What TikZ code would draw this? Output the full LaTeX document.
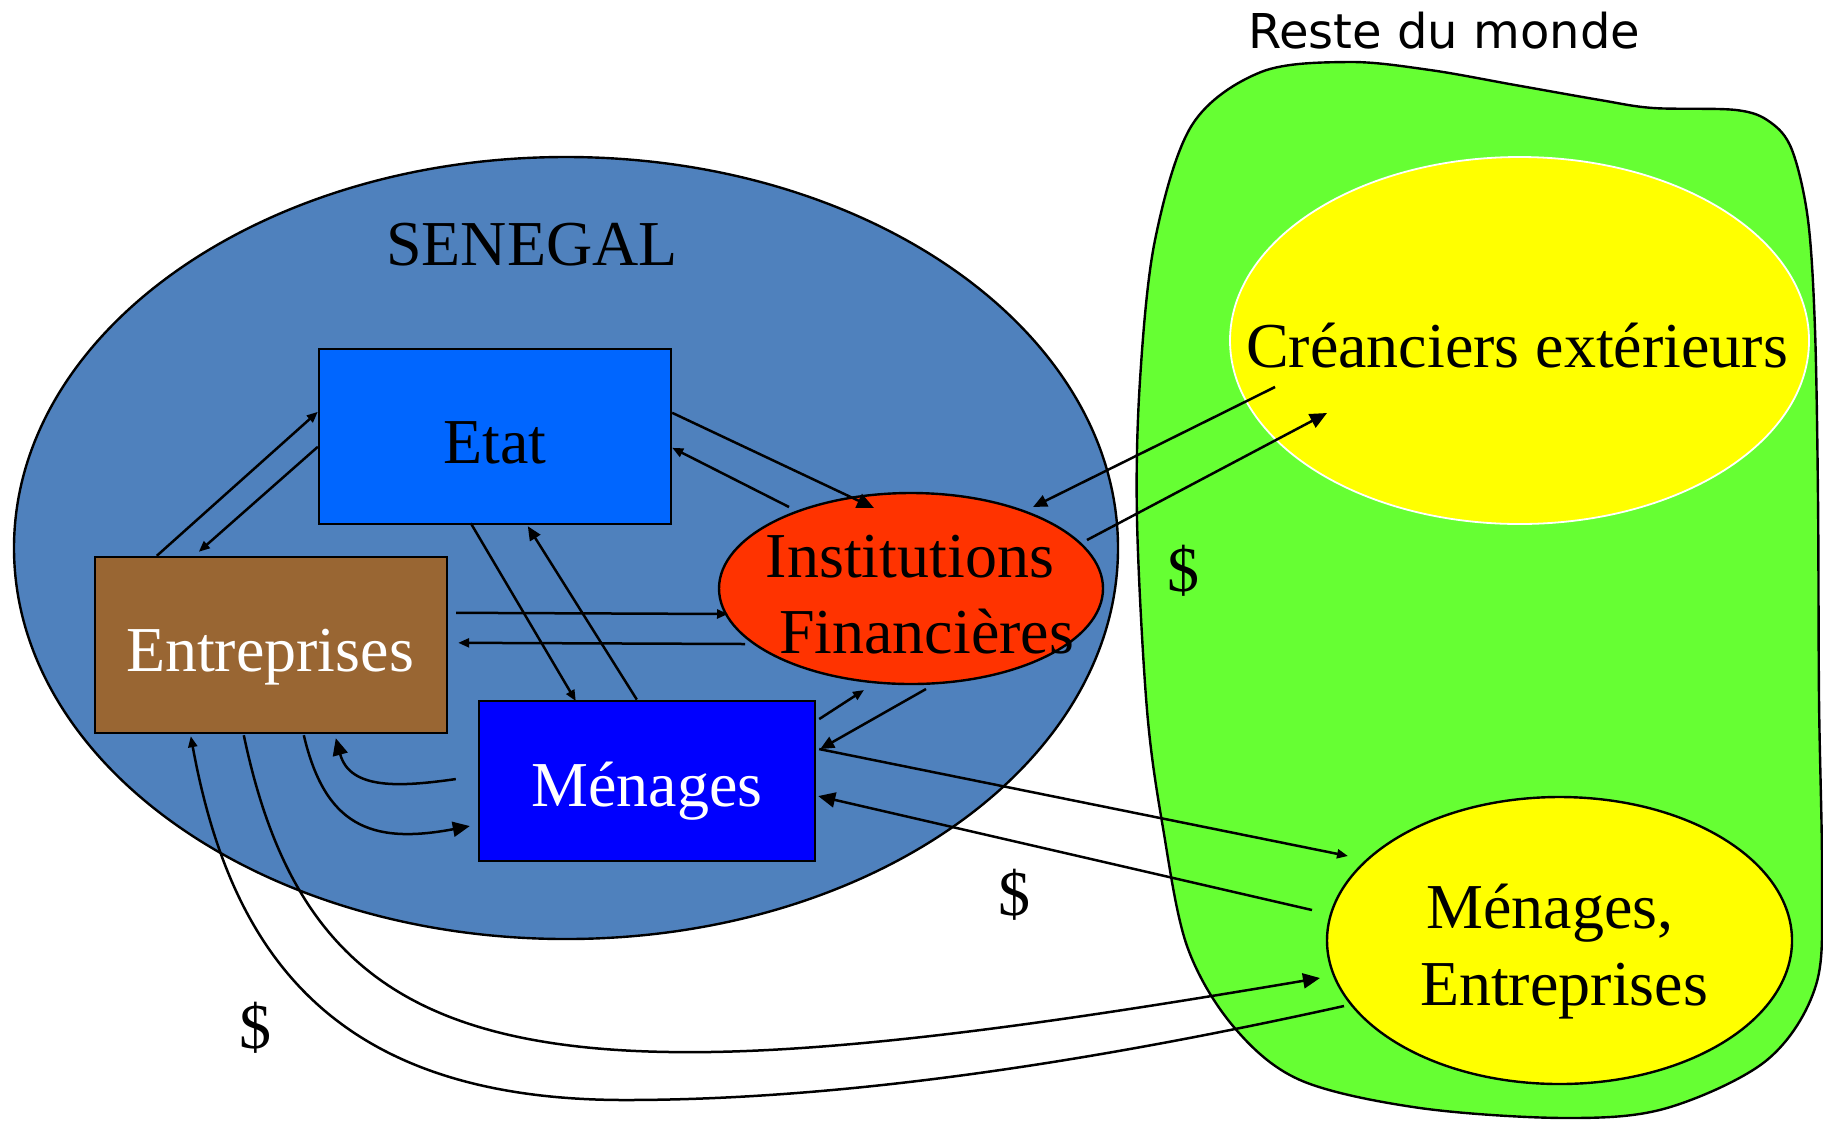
\documentclass[tikz,border=0pt]{standalone}
\usepackage{fontspec}
\setmainfont{Liberation Serif}
\newfontfamily\rdmfont{DejaVu Sans}
\usetikzlibrary{arrows.meta,shapes.geometric,calc}
\definecolor{senblue}{HTML}{4F81BD}
\definecolor{etatblue}{HTML}{0066FF}
\definecolor{entbrown}{HTML}{996633}
\definecolor{menblue}{HTML}{0000FF}
\definecolor{ifred}{HTML}{FF3300}
\definecolor{rgreen}{HTML}{66FF33}
\definecolor{ryellow}{HTML}{FFFF00}
\begin{document}
\begin{tikzpicture}[x=0.5pt,y=-0.5pt,
 box/.style={draw=black,line width=1.2pt,inner sep=0pt},
 ell/.style={ellipse,draw=black,line width=1.2pt,inner sep=0pt},
 lbl/.style={font=\fontsize{32}{36}\selectfont, anchor=base, inner sep=0pt},
 dol/.style={font=\fontsize{32}{36}\selectfont, inner sep=0pt},
 ar/.style={line width=1.25pt,-{Triangle[length=5.5pt,width=4.5pt]}},
 arm/.style={line width=1.25pt,-{Triangle[length=7pt,width=6pt]}},
 arl/.style={line width=1.25pt,-{Triangle[length=8.5pt,width=7.5pt]}},
]
\useasboundingbox (0,0) rectangle (1823,1120);
% Reste du monde blob
\draw[fill=rgreen, line width=1.2pt] plot[smooth cycle, tension=0.55] coordinates {
 (1137,520) (1140,380) (1155,240) (1192,125) (1261,72) (1349,62) (1430,70)
 (1515,85) (1600,100) (1653,108) (1736,110) (1770,122) (1792,150) (1808,220)
 (1815,330) (1818,500) (1819,700) (1822,880) (1816,985) (1767,1060) (1667,1108)
 (1567,1118) (1420,1108) (1300,1080) (1233,1026) (1187,946) (1163,828) (1147,710)};
\node[anchor=base, font=\rdmfont\fontsize{24}{28}\selectfont, inner sep=0pt] (rdm) at (1444,48) {Reste du monde};
\node[ell, draw=white, line width=0.9pt, fill=ryellow, minimum width=289.5pt, minimum height=183.5pt] (cred) at (1519.5,340.5) {};
\node[lbl] (credtxt) at (1517,367) {Créanciers extérieurs};
\node[ell, fill=ryellow, minimum width=232.5pt, minimum height=143.5pt] (me) at (1559.5,940.5) {};
\node[lbl] (metxt1) at (1550,928) {Ménages,};
\node[lbl] (metxt2) at (1564,1005) {Entreprises};
% Senegal
\node[ell, fill=senblue, minimum width=552pt, minimum height=391pt] (sen) at (566,548) {};
\node[lbl] (sentxt) at (532,265) {SENEGAL};
\node[box, fill=etatblue, minimum width=176pt, minimum height=87.5pt] (etat) at (495,436.5) {};
\node[lbl] (etattxt) at (495,463) {Etat};
\node[box, fill=entbrown, minimum width=176pt, minimum height=88pt] (ent) at (271,645) {};
\node[lbl, text=white] (enttxt) at (270,671) {Entreprises};
\node[box, fill=menblue, minimum width=168pt, minimum height=80.25pt] (men) at (647,781) {};
\node[lbl, text=white] (mentxt) at (647,806.5) {Ménages};
\node[ell, fill=ifred, minimum width=192pt, minimum height=95.5pt] (ifin) at (911,588.5) {};
\node[lbl] (iftxt1) at (910,577) {Institutions};
\node[lbl] (iftxt2) at (926.6,653) {Financières};
% dollars
\node[dol] (d1) at (1183,571) {\$};
\node[dol] (d2) at (1014,895) {\$};
\node[dol] (d3) at (255,1028) {\$};
% arrows
\draw[ar] ($(ent.north west)+(63,0)$) -- ($(etat.north west)+(0,64)$);
\draw[ar] ($(etat.north west)+(0,99)$) -- ($(ent.north west)+(105,-4)$);
\draw[arl] ($(etat.north east)+(0,65)$) -- ($(ifin.center)+(-37,-80.5)$);
\draw[ar] ($(ifin.center)+(-122,-81.5)$) -- ($(etat.north east)+(0,100)$);
\draw[ar] ($(etat.south west)+(153,-2)$) -- ($(men.north west)+(98,1.5)$);
\draw[arm] ($(men.north west)+(159,0)$) -- ($(etat.south west)+(210,1)$);
\draw[ar] ($(ent.north east)+(8,57)$) -- ($(ifin.center)+(-183,25.5)$);
\draw[ar] ($(ifin.center)+(-166,55.5)$) -- ($(ent.north east)+(10,87)$);
\draw[ar] ($(men.north east)+(3,19.5)$) -- ($(ifin.center)+(-47,101.5)$);
\draw[arm] ($(ifin.center)+(15,100.5)$) -- ($(men.north east)+(4,49.5)$);
\draw[ar] ($(men.north east)+(3,49.5)$) -- ($(me.center)+(-211.5,-84.5)$);
\draw[arl] ($(me.center)+(-247.5,-30.5)$) -- ($(men.north east)+(2,96.5)$);
\draw[arl] ($(men.north west)+(-22,79.5)$) .. controls (400,787) and (350,790) .. ($(ent.south west)+(242,4)$);
\draw[arl] ($(ent.south west)+(210,1)$) .. controls (325,825) and (370,845) .. ($(men.north west)+(-8,126.5)$);
\draw[arl] ($(ent.south west)+(150,1)$) .. controls (290,955) and (400,1048) .. (670,1052)
   .. controls (850,1055) and (1100,1015) .. ($(me.center)+(-239.5,37.5)$);
\draw[ar] ($(me.center)+(-215.5,65.5)$) .. controls (1100,1060) and (850,1100) .. (625,1100)
   .. controls (330,1100) and (230,950) .. ($(ent.south west)+(97,2)$);
\draw[arm] ($(cred.center)+(-244.5,46.5)$) -- ($(ifin.center)+(122,-81.5)$);
\draw[arl] ($(ifin.center)+(176,-48.5)$) -- ($(cred.center)+(-192.5,72.5)$);
\end{tikzpicture}
\end{document}
